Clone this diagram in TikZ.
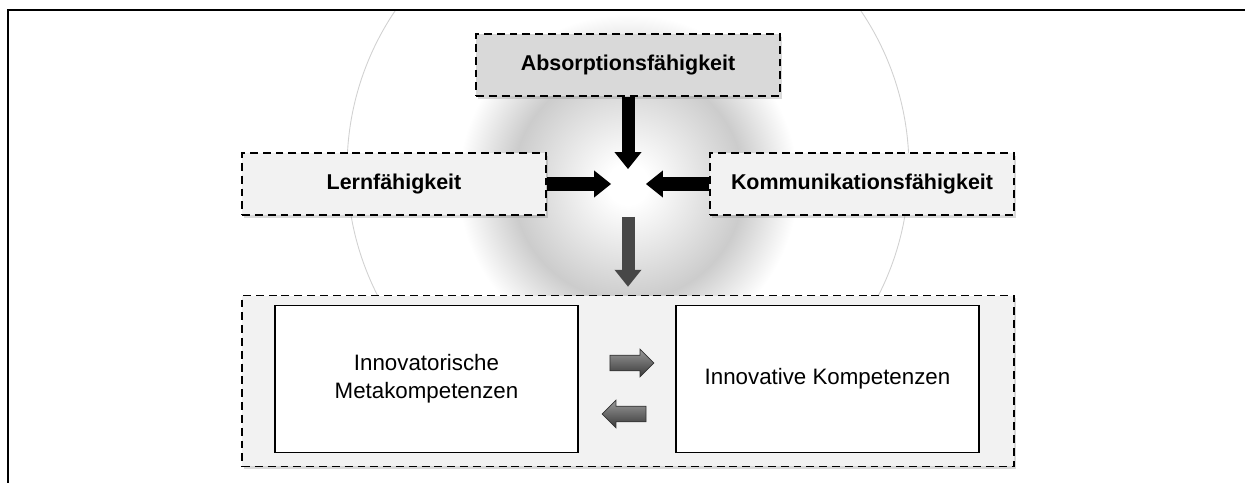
\documentclass[tikz,border=0pt]{standalone}
\usepackage{fontspec}
\setmainfont{Liberation Sans}
\usepackage{tikz}
\usetikzlibrary{arrows.meta,positioning,shapes.arrows,shadows}
\definecolor{boxgray}{RGB}{242,242,242}
\definecolor{topgray}{RGB}{217,217,217}
\pgfdeclareradialshading{glow}{\pgfpoint{0bp}{0bp}}{color(0bp)=(white); color(3bp)=(white); color(17bp)=(black!20); color(25bp)=(white); color(50bp)=(white)}

\begin{document}
\begin{tikzpicture}[x=0.02cm,y=-0.02cm,
  fbox/.style={draw,dash pattern=on 4.5pt off 2.8pt,line width=1pt,fill=boxgray,
    drop shadow={shadow xshift=1.2pt,shadow yshift=-1.6pt,opacity=0.3},
    minimum width=6.08cm,minimum height=1.24cm,font=\fontsize{12.2}{14}\selectfont\bfseries},
  kbox/.style={draw,line width=0.8pt,fill=white,minimum width=6.06cm,minimum height=2.94cm,
    align=center,font=\fontsize{12.7}{16}\selectfont},
  bigarr/.style={line width=7.4pt,-{Triangle[length=9.6pt,width=15.4pt,line width=0pt]}},
  smallarr/.style={single arrow,draw=black!80,line width=0.4pt,top color=black!40,bottom color=black!78,
    minimum height=0.88cm,inner xsep=0pt,inner ysep=0.15cm,single arrow head extend=0.12cm}]
  \useasboundingbox (0,0) rectangle (1245,483);
  \coordinate (ctr) at (628,184);
  % Hintergrund
  \shade[shading=glow] (ctr) circle (3.4cm);
  \begin{scope}
    \clip (8,10) rectangle (1245,483);
    \draw[black!18,line width=0.5pt] (628,168) circle (5.62cm);
  \end{scope}
  \draw[line width=1.1pt] (1245,10) -- (8,10) -- (8,483);
  % Faehigkeiten
  \node[fbox,fill=topgray] (abs) at (628,65) {Absorptionsfähigkeit};
  \node[fbox] (lern) at (394,184) {Lernfähigkeit};
  \node[fbox] (komm) at (862,184) {Kommunikationsfähigkeit};
  \node[fbox,minimum width=15.44cm,minimum height=3.42cm] (kompz) at (628,381) {};
  \node[kbox] (meta) at (426.5,379) {Innovatorische\\Metakompetenzen};
  \node[kbox] (innov) at (827.5,379) {Innovative Kompetenzen};
  \draw[bigarr,shorten >=0.3cm] (abs) -- (ctr);
  \draw[bigarr,shorten >=0.34cm] (lern) -- (ctr);
  \draw[bigarr,shorten >=0.36cm] (komm) -- (ctr);
  \draw[bigarr,black!72,shorten <=0.66cm,shorten >=0.16cm] (ctr) -- (kompz);
  \node[smallarr] (hin) at (628,363) {};
  \node[smallarr,shape border rotate=180] (zurueck) at (628,414) {};
\end{tikzpicture}
\end{document}
